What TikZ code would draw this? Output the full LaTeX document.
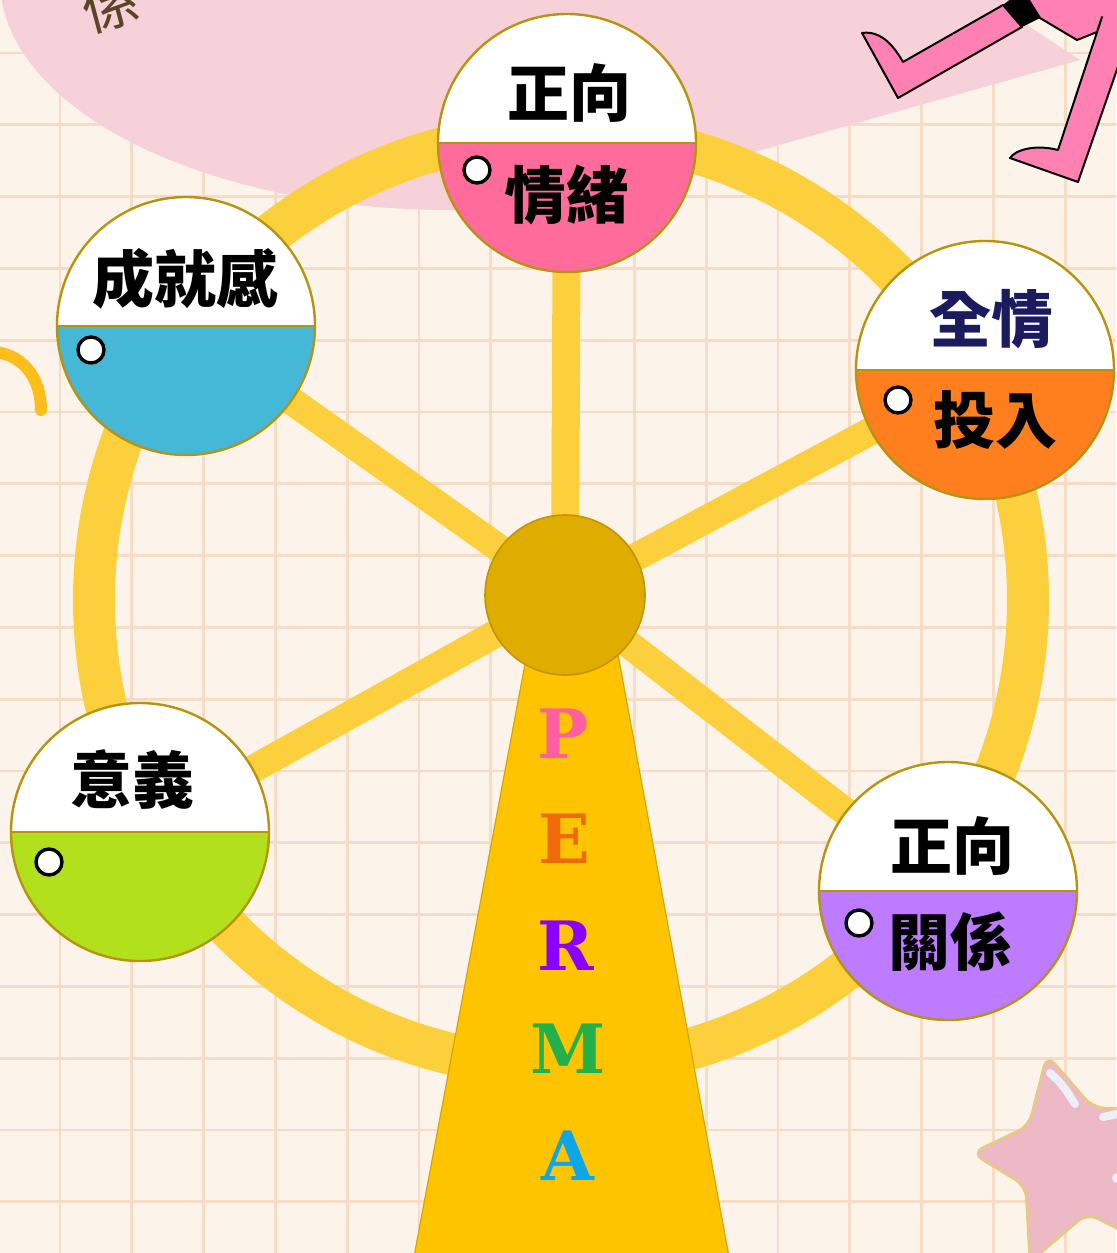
\documentclass[tikz,border=0pt]{standalone}
\usepackage{fontspec}
\newfontfamily\cjk{Noto Sans CJK TC}
\newfontfamily\slab{DejaVu Serif}
\usepackage{tikz}

\definecolor{paper}{HTML}{FCF4EB}
\definecolor{gridline}{HTML}{F6DCC5}
\definecolor{bubble}{HTML}{F7D1DA}
\definecolor{legpink}{HTML}{FF80B3}
\definecolor{ringgold}{HTML}{FCD03C}
\definecolor{towergold}{HTML}{FFC400}
\definecolor{toweredge}{HTML}{D9A600}
\definecolor{hubgold}{HTML}{DFAC00}
\definecolor{hubedge}{HTML}{C39500}
\definecolor{cabinedge}{HTML}{B8940E}
\definecolor{cabpink}{HTML}{FF6B9B}
\definecolor{cabblue}{HTML}{45B8D7}
\definecolor{caborange}{HTML}{FF7F1F}
\definecolor{cabgreen}{HTML}{B2E01C}
\definecolor{cabpurple}{HTML}{BD7BFF}
\definecolor{navyink}{HTML}{1B1B5E}
\definecolor{permaP}{HTML}{FF5FA0}
\definecolor{permaE}{HTML}{F06A0A}
\definecolor{permaR}{HTML}{8B00FF}
\definecolor{permaM}{HTML}{22B04A}
\definecolor{permaA}{HTML}{0EA5E9}
\definecolor{starpink}{HTML}{EEB9C6}
\definecolor{staredge}{HTML}{E5C98C}
\definecolor{shine}{HTML}{EDF0F7}
\definecolor{swirlgold}{HTML}{FDBE1C}
\definecolor{scrawlbrown}{HTML}{5B4427}

\pgfdeclarelayer{sheet}
\pgfdeclarelayer{frame}
\pgfsetlayers{sheet,frame,main}

\tikzset{
  gridrule/.style={gridline,line width=1.4pt},
  cabin/.style={circle,draw=cabinedge,line width=1.2pt,fill=white,
    minimum size=129pt,inner sep=0pt,
    path picture={
      \fill[#1] (path picture bounding box.west) rectangle (path picture bounding box.south east);
      \draw[cabinedge,line width=1.2pt] (path picture bounding box.west) -- (path picture bounding box.east);}},
  hole/.style={circle,draw=black,fill=white,line width=1.7pt,minimum size=13pt,inner sep=0pt},
  hubdisc/.style={circle,fill=hubgold,draw=hubedge,line width=0.8pt,minimum size=80pt,inner sep=0pt},
  wheelring/.style={ringgold,line width=21pt},
  spoke/.style={ringgold,line width=14pt},
  tower/.style={fill=towergold,draw=toweredge,line width=0.6pt},
  toptext/.style={font={\cjk\bfseries\fontsize{31pt}{31pt}\selectfont},text=black,inner sep=0pt},
  lowtext/.style={font={\cjk\bfseries\fontsize{31pt}{31pt}\selectfont},text=black,inner sep=0pt},
  perma/.style={font={\slab\bfseries\fontsize{34pt}{34pt}\selectfont},inner sep=0pt},
  scrawl/.style={font={\cjk\fontsize{28pt}{28pt}\selectfont},text=scrawlbrown,inner sep=0pt},
  swirl/.style={swirlgold,line width=6pt,line cap=round},
  legline/.style={fill=legpink,draw=black,line width=1pt,line join=round},
  shineline/.style={shine,line width=4pt,line cap=round}
}

\begin{document}
\begin{tikzpicture}[x=0.5pt,y=-0.5pt]
  \useasboundingbox (0,0) rectangle (1116,1253);

  % paper, grid and the bubble
  \begin{pgfonlayer}{sheet}
    \fill[paper] (0,0) rectangle (1116,1253);
    \foreach \k in {0,...,14}
      \draw[gridrule] ({60+71.8*\k},0) -- ({60+71.8*\k},1253);
    \foreach \k in {0,...,16}
      \draw[gridrule] (0,{53+71.8*\k}) -- (1116,{53+71.8*\k});
    \fill[bubble] (450,-20) ellipse [x radius=450,y radius=230];
    \fill[bubble] (620,190) -- (1080,60) -- (1030,27) -- (1000,-10) -- (620,-10) -- cycle;
    \node[scrawl,rotate=15] (note) at (110,4) {係};
    \draw[swirl] (-4,352) .. controls (25,356) and (41,380) .. (41,410);
  \end{pgfonlayer}

  \coordinate (axle) at (561,600);

  % stand and hub
  \draw[tower] (537,600) -- (608,600) -- (730,1262) -- (413,1262) -- cycle;
  \node[hubdisc] (hub) at (565,595) {};

  % cabins
  \node[cabin=cabpink] (cpos) at (567,143) {};
  \node[cabin=cabblue] (cacc) at (186,326) {};
  \node[cabin=caborange] (ceng) at (985,370) {};
  \node[cabin=cabgreen] (cmean) at (140,832) {};
  \node[cabin=cabpurple] (crel) at (948,891) {};

  \begin{pgfonlayer}{frame}
    \draw[wheelring] (axle) circle [radius=467];
    \foreach \c in {cpos,cacc,ceng,cmean,crel}
      \draw[spoke] (hub.center) -- (\c.center);
  \end{pgfonlayer}

  \node[hole] (hpos) at (477,170) {};
  \node[hole] (hacc) at (91,350) {};
  \node[hole] (heng) at (898,400) {};
  \node[hole] (hmean) at (49,862) {};
  \node[hole] (hrel) at (859,923) {};

  \node[toptext] (tpos) at (569,93) {正向};
  \node[lowtext] (lpos) at (566,195) {情緒};
  \node[toptext] (tacc) at (185,279) {成就感};
  \node[toptext,text=navyink] (teng) at (991,319) {全情};
  \node[lowtext] (leng) at (995,420) {投入};
  \node[toptext] (tmean) at (132,779) {意義};
  \node[toptext] (trel) at (952,846) {正向};
  \node[lowtext] (lrel) at (950,942) {關係};

  % letters down the stand
  \node[perma,text=permaP] (mP) at (563,734) {P};
  \node[perma,text=permaE] (mE) at (564,839) {E};
  \node[perma,text=permaR] (mR) at (566,946) {R};
  \node[perma,text=permaM] (mM) at (568,1049) {M};
  \node[perma,text=permaA] (mA) at (568,1156) {A};

  % legs in the corner
  \draw[legline] (1025,-6) -- (1040,18) -- (1077,40) -- (1097,32) -- (1102,17)
    -- (1058,150) .. controls (1035,144) and (1015,150) .. (1010,158)
    -- (1078,182) -- (1122,55) -- (1122,-6) -- cycle;
  \draw[legline] (862,33) .. controls (882,30) and (895,48) .. (903,62)
    -- (1003,5) -- (1022,27) -- (898,98) -- cycle;
  \fill[black] (1003,5) -- (1012,-2) -- (1027,-2) -- (1040,18) -- (1022,27) -- cycle;

  % star
  \draw[fill=starpink,draw=staredge,line width=1.5pt,rounded corners=6pt]
    (1047,1055) -- (1029,1126) -- (972,1153) -- (1026,1186) -- (1030,1262)
    -- (1087,1213) -- (1160,1250) -- (1150,1175) -- (1190,1110) -- (1093,1108) -- cycle;
  \draw[shineline] (1050,1073) .. controls (1062,1084) .. (1075,1104);
  \draw[shineline] (1103,1117) -- (1122,1113);
  \fill[shine] (1117,1178) circle [radius=5];
\end{tikzpicture}
\end{document}
